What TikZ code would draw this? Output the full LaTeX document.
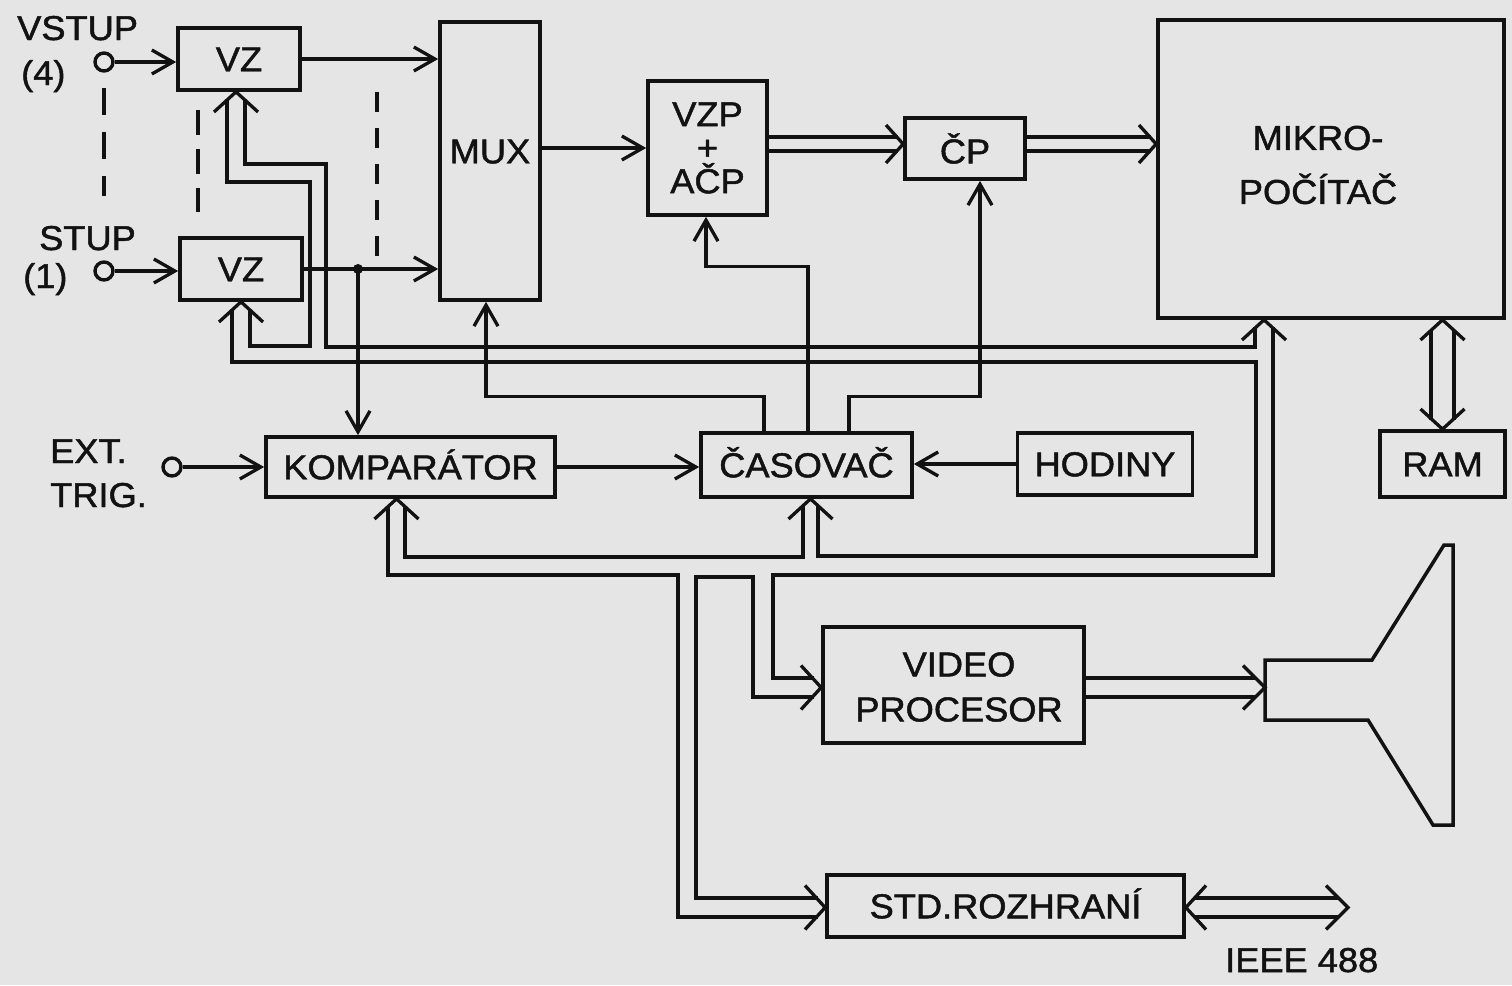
\documentclass[tikz,border=0pt]{standalone}
\usepackage{fontspec}
\setmainfont{Liberation Sans}[FakeBold=1.4, FakeStretch=1.05]
\usetikzlibrary{arrows.meta,calc}
\definecolor{paper}{RGB}{229,229,229}
\definecolor{ink}{RGB}{18,18,18}
\begin{document}
\begin{tikzpicture}[x=1pt,y=-1pt,
  every node/.style={font=\fontsize{34.5}{40}\selectfont, text=ink},
  box/.style={draw=ink, line width=3.7pt, inner sep=0pt, align=center},
  one/.style={text height=24.5pt, text depth=0pt},
  lbl/.style={anchor=base west, inner sep=0pt},
  ln/.style={draw=ink, line width=3.3pt},
  arr/.style={ln, -{Straight Barb[length=21pt,width=24pt]}},
  dsh/.style={draw=ink, line width=3.5pt},
  port/.style={circle, draw=ink, line width=3.4pt, minimum size=18pt, inner sep=0pt},
]
\useasboundingbox (0,0) rectangle (1512,985);
\fill[paper] (0,0) rectangle (1512,985);

% ---------- blocks ----------
\node[box, one, minimum width=122pt, minimum height=62pt] (vz4) at (239,59) {VZ};
\node[box, one, minimum width=122pt, minimum height=62pt] (vz1) at (241,269) {VZ};
\node[box, minimum width=100pt, minimum height=278pt] (mux) at (490,161) {};
\node[one] (muxt) at (490,151) {MUX};
\node[box, minimum width=119pt, minimum height=134pt, font=\fontsize{34.5}{33.5}\selectfont] (vzp) at (707.5,148) {VZP\\+\\AČP};
\node[box, minimum width=120pt, minimum height=61pt] (cp) at (965,148.5) {ČP};
\node[box, minimum width=346pt, minimum height=298pt] (mikro) at (1331,169) {};
\node[align=center, font=\fontsize{34.5}{54}\selectfont] (mikrot) at (1318,165) {MIKRO-\\POČÍTAČ};
\node[box, one, minimum width=125pt, minimum height=66pt] (ram) at (1442.5,464) {RAM};
\node[box, one, minimum width=289pt, minimum height=60pt] (komp) at (410.5,467) {KOMPARÁTOR};
\node[box, one, minimum width=211pt, minimum height=64pt] (cas) at (806.5,465) {ČASOVAČ};
\node[box, one, minimum width=175pt, minimum height=62pt] (hod) at (1105,464) {HODINY};
\node[box, minimum width=261pt, minimum height=116pt] (video) at (953.5,685) {};
\node[align=center, font=\fontsize{34.5}{45}\selectfont] (videot) at (959,687) {VIDEO\\PROCESOR};
\node[box, one, minimum width=357pt, minimum height=62pt] (std) at (1005.5,906) {STD.ROZHRANÍ};

% ---------- inputs and labels ----------
\node[port] (c4) at (104,62) {};
\node[port] (c1) at (104,271) {};
\node[port] (ce) at (172,467) {};
\node[lbl] (lvstup) at (17,40) {VSTUP};
\node[lbl] (l4) at (21,85) {(4)};
\node[lbl] (lstup) at (39,250) {STUP};
\node[lbl] (l1) at (23,288) {(1)};
\node[lbl] (lext) at (50,463) {EXT.};
\node[lbl] (ltrig) at (50,507) {TRIG.};
\node[lbl] (lieee) at (1225,972) {IEEE 488};

% dashed "more channels" marks
\draw[dsh, dash pattern=on 27pt off 17pt] (104,88) -- (104,196);
\draw[dsh, dash pattern=on 25pt off 14pt] (198,110) -- (198,212);
\draw[dsh, dash pattern=on 20pt off 16pt] (377,92) -- (377,262);

% ---------- single arrows ----------
\draw[arr] (c4.east) -- (c4.east -| vz4.west);
\draw[arr] (c1.east) -- (c1.east -| vz1.west);
\draw[arr] (ce.east) -- (ce.east -| komp.west);
\draw[arr] (vz4.east) -- (vz4.east -| mux.west);
\draw[arr] (vz1.east) -- (vz1.east -| mux.west);
\coordinate (j) at (358,269);
\fill[ink] (j) circle (5pt);
\draw[arr] (j) -- (j |- komp.north);
\draw[arr] (vzp.west -| mux.east) -- (vzp.west);
\draw[arr] (komp.east) -- (komp.east -| cas.west);
\draw[arr] (hod.west) -- (hod.west -| cas.east);
\draw[arr] ([xshift=-42.5pt]cas.north) -- ++(0,-35) -| ([xshift=-4pt]mux.south);
\draw[arr] ([xshift=1.5pt]cas.north) -- ++(0,-165) -| ([xshift=-1.5pt]vzp.south);
\draw[arr] ([xshift=42.5pt]cas.north) -- ++(0,-35) -| ([xshift=15pt]cp.south);

% ---------- bus arrows ----------
% VZP+ACP -> CP
\draw[ln] ([yshift=11pt]vzp.east) -- (898,137);
\draw[ln] ([yshift=-3pt]vzp.east) -- (898,151);
\draw[ln] (886,125) -- ([yshift=4.5pt]cp.west) -- (886,163);
% CP -> MIKROPOCITAC
\draw[ln] ([yshift=11.5pt]cp.east) -- (1151,137);
\draw[ln] ([yshift=-2.5pt]cp.east) -- (1151,151);
\draw[ln] (1139,125) -- ([yshift=25pt]mikro.west) -- (1139,163);
% MIKROPOCITAC <-> RAM
\draw[ln] (1431,329.5) -- (1431,419.5);
\draw[ln] (1454,329.5) -- (1454,419.5);
\draw[ln] (1420.5,340) -- (ram.north |- mikro.south) -- (1464.5,340);
\draw[ln] (1420.5,409) -- (ram.north) -- (1464.5,409);

% feedback into the VZ blocks
\draw[ln] (214,112) -- ([xshift=-3pt]vz4.south) -- (258,112);
\draw[ln] (219,322) -- (vz1.south) -- (263,322);
\draw[ln] (227,99) |- (310,182) |- (250,346) -- (250,309);
\draw[ln] (245,99) |- (326,164) |- (1255,347) -- (1255,327);
\draw[ln] (1242,340) -- ([xshift=-67pt]mikro.south) -- (1286,340);
\draw[ln] (232,309) |- (1256,362) |- (818,556) -- (818,504.5);
% CASOVAC bottom
\draw[ln] (788.5,519) -- ([xshift=4pt]cas.south) -- (832.5,519);
\draw[ln] (803,504.5) |- (405,557) -- (405,505.5);
% KOMPARATOR bottom
\draw[ln] (374.5,519) -- ([xshift=-14pt]komp.south) -- (418.5,519);
\draw[ln] (388,505.5) |- (678,575) |- (817.5,917);
% STD.ROZHRANI left
\draw[ln] (805,885.5) -- ([yshift=-1.5pt]std.west) -- (805,929.5);
\draw[ln] (817.5,898) -| (696,577) -| (753,697) -- (813.5,697);
% VIDEO PROCESOR left
\draw[ln] (801,665.5) -- ([yshift=-2.5pt]video.west) -- (801,709.5);
\draw[ln] (1273,327) |- (773,575) |- (813.5,678);
% VIDEO -> monitor
\coordinate (mon) at (1265,687.5);
\draw[ln] ([yshift=7pt]video.east) -- (1255.5,678);
\draw[ln] ([yshift=-12pt]video.east) -- (1255.5,697);
\draw[ln] (1243,665.5) -- (mon) -- (1243,709.5);
% STD <-> IEEE 488
\coordinate (ieee) at (1348,907.5);
\draw[ln] (1193.5,898) -- (1338.5,898);
\draw[ln] (1193.5,917) -- (1338.5,917);
\draw[ln] (1206,885.5) -- ([yshift=-1.5pt]std.east) -- (1206,929.5);
\draw[ln] (1326,885.5) -- (ieee) -- (1326,929.5);

% ---------- monitor (CRT) ----------
\draw[ln, line width=3.5pt] (1265,660) -- (1372,660) -- (1444,545) -- (1453,545)
  -- (1453,825) -- (1433,825) -- (1368,720) -- (1265,720) -- cycle;
\end{tikzpicture}
\end{document}
